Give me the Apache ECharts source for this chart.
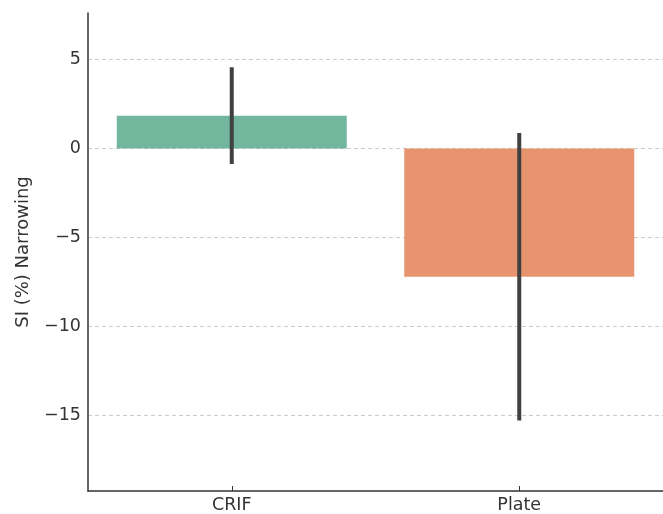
<!DOCTYPE html>
<html>
<head>
<meta charset="utf-8">
<script src="https://cdn.jsdelivr.net/npm/echarts@6/dist/echarts.min.js"></script>
<style>html,body{margin:0;padding:0;background:#fff}#c{width:663px;height:514px}</style>
</head>
<body>
<div id="c"></div>
<script>
const categories = ['CRIF', 'Plate'];
const means = [1.85, -7.2];
const ciLow = [-0.87, -15.28];
const ciHigh = [4.57, 0.88];
const barColors = ['#72b69e', '#e8946f'];
const yMin = -19.25, yMax = 7.62;

const chart = echarts.init(document.getElementById('c'));
const font = 'DejaVu Sans';
chart.setOption({
  animation: false,
  grid: {left: 88, right: -4, top: 13, bottom: 22, containLabel: false},
  xAxis: {
    type: 'category',
    data: categories,
    axisLine: {onZero: false, lineStyle: {color: '#333', width: 1.5}},
    axisTick: {show: true, inside: true, length: 5, alignWithLabel: true, lineStyle: {color: '#333'}},
    axisLabel: {color: '#333', fontSize: 17.5, fontFamily: font, margin: 5},
    splitLine: {show: false}
  },
  yAxis: {
    type: 'value',
    min: yMin, max: yMax,
    splitNumber: 5,
    name: 'SI (%) Narrowing',
    nameLocation: 'middle',
    nameGap: 56,
    nameTextStyle: {color: '#333', fontSize: 18, fontFamily: font},
    axisLine: {show: true, lineStyle: {color: '#333', width: 1.5}},
    axisTick: {show: false},
    axisLabel: {
      color: '#333', fontSize: 17.5, fontFamily: font, margin: 7,
      showMinLabel: false, showMaxLabel: false,
      formatter: v => (Math.abs(v % 5) > 1e-6 ? '' : (v < 0 ? '\u2212' + Math.abs(v) : String(v)))
    },
    splitLine: {show: true, showMinLine: false, showMaxLine: false, lineStyle: {color: '#cccccc', type: [4, 3], width: 1}}
  },
  series: [
    {
      type: 'bar',
      data: means.map((v, i) => ({value: v, itemStyle: {color: barColors[i]}})),
      barWidth: '80%'
    },
    {
      type: 'custom',
      data: categories.map((c, i) => [i, ciLow[i], ciHigh[i]]),
      renderItem: function (params, api) {
        const lo = api.coord([api.value(0), api.value(1)]);
        const hi = api.coord([api.value(0), api.value(2)]);
        return {
          type: 'line',
          shape: {x1: lo[0], y1: lo[1], x2: hi[0], y2: hi[1]},
          style: {stroke: '#404040', lineWidth: 4}
        };
      },
      z: 5
    }
  ]
});
</script>
</body>
</html>
